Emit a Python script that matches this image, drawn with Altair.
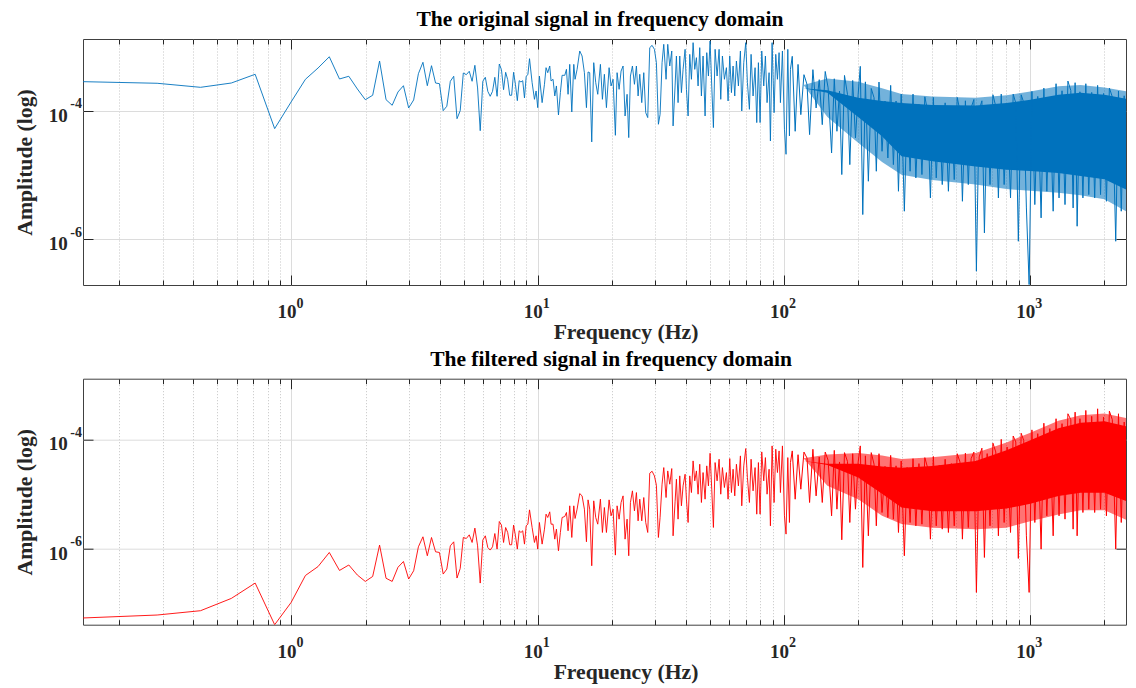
import altair as alt
import pandas as pd

# ---------------- data ----------------
BIN_HZ = 0.1425  # spacing of the FFT bins (first point sits at one bin)

# amplitudes are given as log10(amplitude)
orig_bins_log10 = [
    -3.548, -3.573, -3.636, -3.569, -3.433, -4.280, -3.863, -3.511, -3.335, -3.160,
    -3.506, -3.464, -3.662, -3.829, -3.760, -3.226, -3.829, -3.916, -3.709, -3.611,
    -3.958, -3.833, -3.424, -3.246, -3.611, -3.299, -3.569, -3.579, -4.000, -3.931,
    -3.542, -3.464, -4.125, -4.000, -3.413, -3.439, -3.386, -3.542, -3.293, -3.646,
    -4.312, -3.542, -3.480, -3.698, -3.776, -3.698, -3.480, -3.776, -3.273, -3.361,
    -3.673, -3.402, -3.517, -3.760, -3.760, -3.402, -3.595, -3.844, -3.533, -3.553,
    -3.533, -3.802, -3.464, -3.439, -3.190]
filt_bins_log10 = [
    -7.272, -7.218, -7.139, -6.914, -6.633, -7.395, -6.987, -6.494, -6.331, -6.073,
    -6.402, -6.302, -6.486, -6.603, -6.512, -5.938, -6.545, -6.603, -6.344, -6.238,
    -6.559, -6.408, -5.969, -5.786, -6.133, -5.799, -6.060, -6.073, -6.468, -6.377,
    -5.951, -5.878, -6.541, -6.366, -5.799, -5.817, -5.750, -5.890, -5.627, -5.951,
    -6.633, -5.846, -5.768, -5.982, -6.029, -5.969, -5.726, -6.011, -5.506, -5.572,
    -5.890, -5.616, -5.707, -5.932, -5.932, -5.572, -5.768, -6.011, -5.676, -5.707,
    -5.676, -5.920, -5.585, -5.554, -5.293]

zig_hz = [
    9.49, 9.70, 9.85, 10.00, 10.16, 10.42, 10.65, 10.81, 10.98, 11.19,
    11.33, 11.54, 11.73, 11.91, 12.14, 12.36, 12.56, 12.88, 13.08, 13.28,
    13.49, 13.75, 14.01, 14.18, 14.45, 14.81, 15.14, 15.47, 15.77, 16.01,
    16.26, 16.57, 16.88, 17.20, 17.53, 17.97, 18.31, 18.65, 19.01, 19.49,
    19.85, 20.23, 20.67, 21.00, 21.40, 21.80, 22.21, 22.63, 23.06, 23.42,
    23.79, 24.24, 24.70, 25.16, 25.56, 25.96, 26.45, 26.95, 27.45, 27.97,
    28.50, 29.13, 29.77, 30.33, 30.90, 31.39, 31.98, 32.49, 33.20, 33.72,
    34.36, 35.01, 35.45, 36.12, 36.57, 37.14, 37.73, 38.32, 38.92, 39.66,
    40.16, 40.79, 41.43, 42.08, 42.74, 43.41, 44.09, 44.78, 45.48, 46.20,
    46.92, 47.81, 48.56, 49.33, 50.10, 50.88, 51.68, 52.50, 53.49, 54.50,
    55.35, 56.22, 57.28, 58.36, 59.28, 60.21, 61.16, 62.12, 63.09, 64.08,
    65.29, 66.52, 67.36, 68.63, 69.92, 71.02, 72.36, 73.50, 74.88, 76.30,
    77.50, 78.71, 79.95, 81.21, 82.74, 84.03, 85.35, 86.97, 88.06, 89.45,
    91.13, 92.57, 94.02, 95.49, 96.70, 98.52, 100.4, 101.9, 103.6, 105.2,
    106.2]
orig_zig_log10 = [
    -3.563, -3.823, -3.693, -3.953, -3.460, -3.875, -3.589, -3.330, -3.408, -3.304,
    -3.537, -3.511, -3.771, -3.615, -4.067, -3.719, -3.449, -3.449, -3.356, -3.745,
    -3.278, -4.020, -3.278, -3.511, -3.356, -3.070, -3.148, -3.408, -3.953, -3.397,
    -3.408, -4.487, -3.252, -3.563, -3.745, -3.278, -3.823, -3.433, -3.953, -3.330,
    -3.615, -3.511, -4.384, -3.408, -3.667, -3.382, -3.304, -4.083, -3.745, -4.420,
    -3.460, -3.304, -3.589, -3.304, -3.771, -3.433, -3.875, -3.408, -4.031, -4.108,
    -3.018, -2.982, -3.044, -3.252, -4.212, -4.057, -3.252, -2.966, -3.511, -2.966,
    -3.304, -3.070, -4.238, -3.615, -3.148, -3.875, -3.148, -3.719, -3.356, -3.044,
    -3.667, -4.083, -3.122, -3.511, -2.940, -3.356, -3.174, -3.615, -3.018, -3.771,
    -3.148, -4.083, -3.096, -3.460, -2.914, -3.615, -4.264, -3.044, -3.460, -3.044,
    -3.823, -3.148, -3.511, -3.330, -3.849, -3.148, -3.719, -3.304, -3.771, -3.226,
    -3.615, -3.070, -4.005, -3.252, -2.940, -3.563, -3.979, -3.122, -3.771, -3.330,
    -4.186, -3.252, -4.186, -3.070, -3.615, -3.148, -3.875, -3.408, -4.472, -2.940,
    -4.031, -3.122, -3.511, -3.096, -3.875, -3.070, -4.290, -4.680, -3.044, -4.394,
    -3.356]
filt_zig_log10 = [
    -5.615, -5.890, -5.768, -6.011, -5.524, -5.920, -5.646, -5.372, -5.433, -5.329,
    -5.555, -5.555, -5.829, -5.646, -6.042, -5.707, -5.433, -5.414, -5.341, -5.676,
    -5.219, -5.798, -5.219, -5.451, -5.280, -4.994, -5.037, -5.280, -5.877, -5.110,
    -5.280, -6.316, -5.128, -5.433, -5.555, -5.097, -5.707, -5.250, -5.707, -5.110,
    -5.402, -5.280, -6.121, -5.219, -5.463, -5.158, -5.037, -5.829, -5.463, -6.133,
    -5.158, -4.945, -5.311, -4.976, -5.494, -5.097, -5.494, -5.067, -5.524, -5.707,
    -4.622, -4.586, -4.671, -4.842, -5.798, -5.433, -4.823, -4.519, -5.067, -4.580,
    -4.823, -4.537, -5.768, -5.146, -4.732, -5.463, -4.671, -5.219, -4.854, -4.641,
    -5.097, -5.524, -4.671, -4.976, -4.397, -4.762, -4.580, -5.006, -4.458, -5.158,
    -4.610, -5.097, -4.488, -4.854, -4.257, -4.915, -5.615, -4.427, -4.762, -4.366,
    -5.006, -4.519, -4.884, -4.610, -5.097, -4.354, -4.976, -4.549, -5.037, -4.458,
    -4.854, -4.305, -5.219, -4.488, -4.171, -4.701, -5.158, -4.366, -4.945, -4.519,
    -5.372, -4.427, -5.372, -4.232, -4.762, -4.336, -5.006, -4.549, -5.585, -4.122,
    -5.158, -4.183, -4.610, -4.214, -4.976, -4.122, -5.402, -5.737, -4.336, -5.524,
    -4.427]

dense_hz = [
    108, 111, 114, 117, 120.5, 124, 127, 131, 135, 139,
    143, 147, 151, 156, 160, 164, 168, 171.6, 176, 181,
    185, 190, 195, 200, 204, 208.8, 214, 220, 226, 232,
    237, 243, 250, 257, 264, 271, 278, 285, 291.5, 299,
    308, 316, 325, 334, 343, 353, 363, 373, 383, 393,
    404, 415, 427, 439, 451, 465, 478, 491, 505, 518,
    530, 545, 560, 575, 590, 604, 620, 636, 651, 668,
    686, 705, 724, 742, 762, 783, 805, 831, 852, 873,
    894, 918, 940, 964, 989, 1015, 1043, 1072, 1106, 1135,
    1167, 1200, 1238, 1272, 1308, 1345, 1383, 1421, 1460, 1492,
    1520, 1549, 1590, 1635, 1680, 1727, 1775, 1825, 1876, 1928,
    1982, 2037, 2094, 2152, 2222, 2280, 2340, 2405, 2487, 2530,
    2580, 2615, 2647, 2672]
orig_dense_log10 = [
    -3.153, -4.321, -3.279, -4.062, -3.439, -3.591, -4.373, -3.361, -3.958, -3.517,
    -4.218, -3.389, -3.643, -4.659, -3.503, -4.321, -3.694, -4.996, -3.451, -3.746,
    -4.841, -3.529, -4.425, -3.746, -3.309, -5.619, -3.551, -5.100, -3.654, -3.798,
    -4.944, -3.554, -4.633, -3.850, -4.737, -3.606, -4.841, -3.850, -5.256, -3.742,
    -5.567, -3.954, -4.944, -3.742, -5.048, -3.902, -4.996, -3.784, -4.006, -5.360,
    -3.794, -5.048, -3.986, -5.152, -3.878, -5.256, -3.986, -5.074, -3.794, -4.006,
    -5.412, -3.846, -5.152, -3.954, -3.826, -6.502, -3.986, -3.846, -5.905, -3.934,
    -5.152, -3.752, -3.934, -5.360, -3.742, -5.152, -3.904, -5.360, -3.742, -3.882,
    -6.035, -3.752, -3.872, -5.516, -6.710, -3.700, -5.464, -3.778, -5.671, -3.648,
    -5.256, -3.794, -5.567, -3.580, -5.360, -3.690, -5.464, -3.539, -3.685, -5.516,
    -3.564, -5.801, -3.706, -5.360, -3.580, -5.308, -3.716, -5.360, -3.606, -5.308,
    -3.732, -5.412, -3.648, -3.784, -6.035, -3.694, -5.567, -3.768, -5.723, -3.652,
    -5.879, -3.906, -6.242, -5.619]
filt_dense_log10 = [
    -4.214, -5.098, -4.283, -4.915, -4.235, -4.344, -5.158, -4.184, -5.037, -4.324,
    -5.158, -4.235, -4.385, -5.402, -4.204, -5.280, -4.416, -5.841, -4.245, -4.406,
    -5.524, -4.265, -5.280, -4.416, -4.122, -6.347, -4.304, -5.768, -4.245, -4.457,
    -5.585, -4.265, -5.341, -4.497, -5.433, -4.296, -5.463, -4.487, -5.707, -4.398,
    -6.133, -4.518, -5.524, -4.357, -5.585, -4.446, -5.555, -4.337, -4.527, -5.829,
    -4.316, -5.585, -4.477, -5.646, -4.367, -5.707, -4.446, -5.585, -4.265, -4.416,
    -5.829, -4.255, -5.616, -4.355, -4.235, -6.804, -4.324, -4.164, -6.164, -4.263,
    -5.585, -4.072, -4.233, -5.768, -4.002, -5.524, -4.142, -5.707, -3.941, -4.050,
    -6.182, -3.890, -4.020, -5.768, -6.804, -3.829, -5.524, -3.898, -6.012, -3.707,
    -5.402, -3.806, -5.768, -3.625, -5.402, -3.715, -5.463, -3.534, -3.642, -5.646,
    -3.504, -5.768, -3.624, -5.341, -3.473, -5.280, -3.581, -5.341, -3.443, -5.280,
    -3.593, -5.402, -3.485, -3.642, -6.012, -3.534, -5.524, -3.685, -5.707, -3.595,
    -5.768, -3.757, -6.073, -5.524]

# envelope of the dense band: solid core and the lighter fringe around it
band_hz = [120, 150, 200, 250, 300, 400, 600, 800, 1000, 1300, 1600, 2000, 2672]
orig_core_hi = [-3.65, -3.68, -3.80, -3.85, -3.88, -3.91, -3.92, -3.88, -3.83, -3.75, -3.72, -3.75, -3.84]
orig_core_lo = [-3.65, -3.72, -4.10, -4.40, -4.71, -4.79, -4.87, -4.92, -4.94, -4.97, -5.02, -5.07, -5.30]
orig_fringe_hi = [-3.60, -3.50, -3.55, -3.65, -3.74, -3.78, -3.80, -3.76, -3.70, -3.62, -3.60, -3.64, -3.72]
orig_fringe_lo = [-3.60, -4.10, -4.50, -4.80, -5.00, -5.08, -5.15, -5.22, -5.25, -5.28, -5.32, -5.38, -5.65]
filt_core_hi = [-4.40, -4.45, -4.45, -4.50, -4.52, -4.49, -4.40, -4.20, -4.02, -3.80, -3.70, -3.67, -3.80]
filt_core_lo = [-4.40, -4.47, -4.70, -5.00, -5.25, -5.32, -5.32, -5.27, -5.18, -5.04, -4.98, -4.98, -5.20]
filt_fringe_hi = [-4.35, -4.28, -4.25, -4.30, -4.36, -4.33, -4.25, -4.06, -3.88, -3.66, -3.56, -3.53, -3.65]
filt_fringe_lo = [-4.35, -4.85, -5.10, -5.40, -5.55, -5.62, -5.65, -5.62, -5.50, -5.38, -5.30, -5.30, -5.55]

x_major = [1, 10, 100, 1000]
x_exponents = ["0", "1", "2", "3"]
x_minor = [0.2, 0.3, 0.4, 0.5, 0.6, 0.7, 0.8, 0.9, 2, 3, 4, 5, 6, 7, 8, 9,
           20, 30, 40, 50, 60, 70, 80, 90, 200, 300, 400, 500, 600, 700, 800, 900, 2000]
y_major = [1e-6, 1e-4]
y_exponents = ["-6", "-4"]
x_domain = [0.1425, 2446]
orig_y_domain_log10 = [-6.717, -2.883]
filt_y_domain_log10 = [-7.395, -2.892]

titles = ["The original signal in frequency domain", "The filtered signal in frequency domain"]

# ---------------- chart ----------------
FONT = "Liberation Serif"
INK = "#262626"
W, H = 1043, 246


def to_df(freqs, logs):
    return pd.DataFrame({"f": freqs, "a": [10 ** v for v in logs]})


def band_df(hi, lo):
    return pd.DataFrame({"f": band_hz, "hi": [10 ** v for v in hi], "lo": [10 ** v for v in lo]})


def tick_axis(orient, values, size):
    return alt.Axis(orient=orient, values=values, labels=False, domain=False, grid=False,
                    ticks=True, tickSize=size, tickColor=INK, tickWidth=1,
                    offset=-size, title=None, minExtent=0, maxExtent=0,
                    labelPadding=0, titlePadding=0)


x_exp_expr = ("datum.value < 5 ? '%s' : datum.value < 50 ? '%s' : datum.value < 500 ? '%s' : '%s'"
              % tuple(x_exponents))
y_exp_expr = "datum.value < 1e-5 ? '%s' : '%s'" % tuple(y_exponents)


def panel(title, color, bins, zig, dense, core, fringe, ydom, title_dx, title_offset):
    xs = alt.Scale(type="log", domain=x_domain, nice=False)
    ys = alt.Scale(type="log", domain=[10 ** ydom[0], 10 ** ydom[1]], nice=False)
    bin_f = [BIN_HZ * (i + 1) for i in range(len(bins))]
    d_b1 = to_df(bin_f[:35], bins[:35])
    d_b2 = to_df(bin_f[34:], bins[34:])
    d_zig = to_df([bin_f[-1]] + zig_hz, [bins[-1]] + zig)
    d_d1 = to_df([zig_hz[-1]] + dense_hz[:42], [zig[-1]] + dense[:42])
    d_d2 = to_df(dense_hz[41:83], dense[41:83])
    d_d3 = to_df(dense_hz[82:], dense[82:])

    x_base = alt.Axis(
        orient="bottom", values=x_major, labelExpr="'10'",
        ticks=False, domain=False, grid=True, gridColor="#dcdcdc", gridWidth=1,
        labelFont=FONT, labelFontSize=19, labelFontWeight="bold", labelColor=INK,
        labelAlign="center", labelBaseline="alphabetic", labelOffset=-5,
        labelPadding=32.7, labelFlush=False, labelOverlap=False,
        title="Frequency (Hz)", titleFont=FONT, titleFontSize=21.7, titleFontWeight="bold",
        titleColor=INK, titleX=542.5, titleY=53.4, titleBaseline="alphabetic", titleAlign="center")
    x_exp = alt.Axis(
        orient="bottom", values=x_major, labelExpr=x_exp_expr,
        ticks=False, domain=False, grid=False,
        labelFont=FONT, labelFontSize=14, labelFontWeight="bold", labelColor=INK,
        labelAlign="left", labelBaseline="alphabetic", labelOffset=4.5,
        labelPadding=22.2, labelFlush=False, labelOverlap=False, title=None)
    x_minor_grid = alt.Axis(orient="bottom", values=x_minor, labels=False, ticks=False,
                            domain=False, grid=True, gridColor="#c4c4c4", gridDash=[1, 2],
                            gridWidth=1, title=None, minExtent=0, maxExtent=0)
    y_base = alt.Axis(
        orient="left", values=y_major, labelExpr="'10'",
        ticks=False, domain=False, grid=True, gridColor="#dcdcdc", gridWidth=1,
        labelFont=FONT, labelFontSize=19, labelFontWeight="bold", labelColor=INK,
        labelAlign="right", labelBaseline="alphabetic", labelPadding=15.8, labelOffset=10.6,
        labelFlush=False, labelOverlap=False,
        title="Amplitude (log)", titleFont=FONT, titleFontSize=21.7, titleFontWeight="bold",
        titleColor=INK, titleX=-51.5, titleY=123, titleAngle=270,
        titleBaseline="alphabetic", titleAlign="center")
    y_exp = alt.Axis(
        orient="left", values=y_major, labelExpr=y_exp_expr,
        ticks=False, domain=False, grid=False,
        labelFont=FONT, labelFontSize=14, labelFontWeight="bold", labelColor=INK,
        labelAlign="right", labelBaseline="alphabetic", labelPadding=1.5, labelOffset=-2.7,
        labelFlush=False, labelOverlap=False, title=None)

    def line(df, xa, ya, lw):
        return alt.Chart(df).mark_line(color=color, strokeWidth=lw, clip=True).encode(
            x=alt.X("f:Q", scale=xs, axis=xa),
            y=alt.Y("a:Q", scale=ys, axis=ya))

    def band(df, xa, ya, op):
        return alt.Chart(df).mark_area(color=color, opacity=op, clip=True).encode(
            x=alt.X("f:Q", scale=xs, axis=xa),
            y=alt.Y("hi:Q", scale=ys, axis=ya),
            y2="lo:Q")

    layers = [
        band(band_df(*fringe), None, None, 0.55),
        band(band_df(*core), x_base, y_base, 1),
        line(d_b1, x_exp, y_exp, 0.9),
        line(d_b2, x_minor_grid, tick_axis("left", y_major, 10), 0.9),
        line(d_zig, tick_axis("bottom", x_major, 10), tick_axis("right", y_major, 10), 0.9),
        line(d_d1, tick_axis("bottom", x_minor, 5), None, 1.0),
        line(d_d2, tick_axis("top", x_major, 10), None, 1.0),
        line(d_d3, tick_axis("top", x_minor, 5), None, 1.0),
    ]
    return alt.layer(*layers).resolve_axis(
        x="independent", y="independent"
    ).properties(
        width=W, height=H,
        title=alt.TitleParams(text=title, font=FONT, fontSize=21.5, fontWeight="bold",
                              color="#000000", anchor="middle", baseline="alphabetic",
                              offset=title_offset, dx=title_dx, dy=22))


top = panel(titles[0], "#0072BD", orig_bins_log10, orig_zig_log10, orig_dense_log10,
            (orig_core_hi, orig_core_lo), (orig_fringe_hi, orig_fringe_lo),
            orig_y_domain_log10, -4.5, 13)
bottom = panel(titles[1], "#FF0000", filt_bins_log10, filt_zig_log10, filt_dense_log10,
               (filt_core_hi, filt_core_lo), (filt_fringe_hi, filt_fringe_lo),
               filt_y_domain_log10, 6.5, 12.7)

chart = alt.vconcat(top, bottom, spacing=3.7).properties(
    padding={"left": 6, "top": 0, "right": 0, "bottom": 0}
).configure_view(stroke="#404040", strokeWidth=1)

chart.save("out.html", embed_options={"renderer": "svg", "actions": False})
